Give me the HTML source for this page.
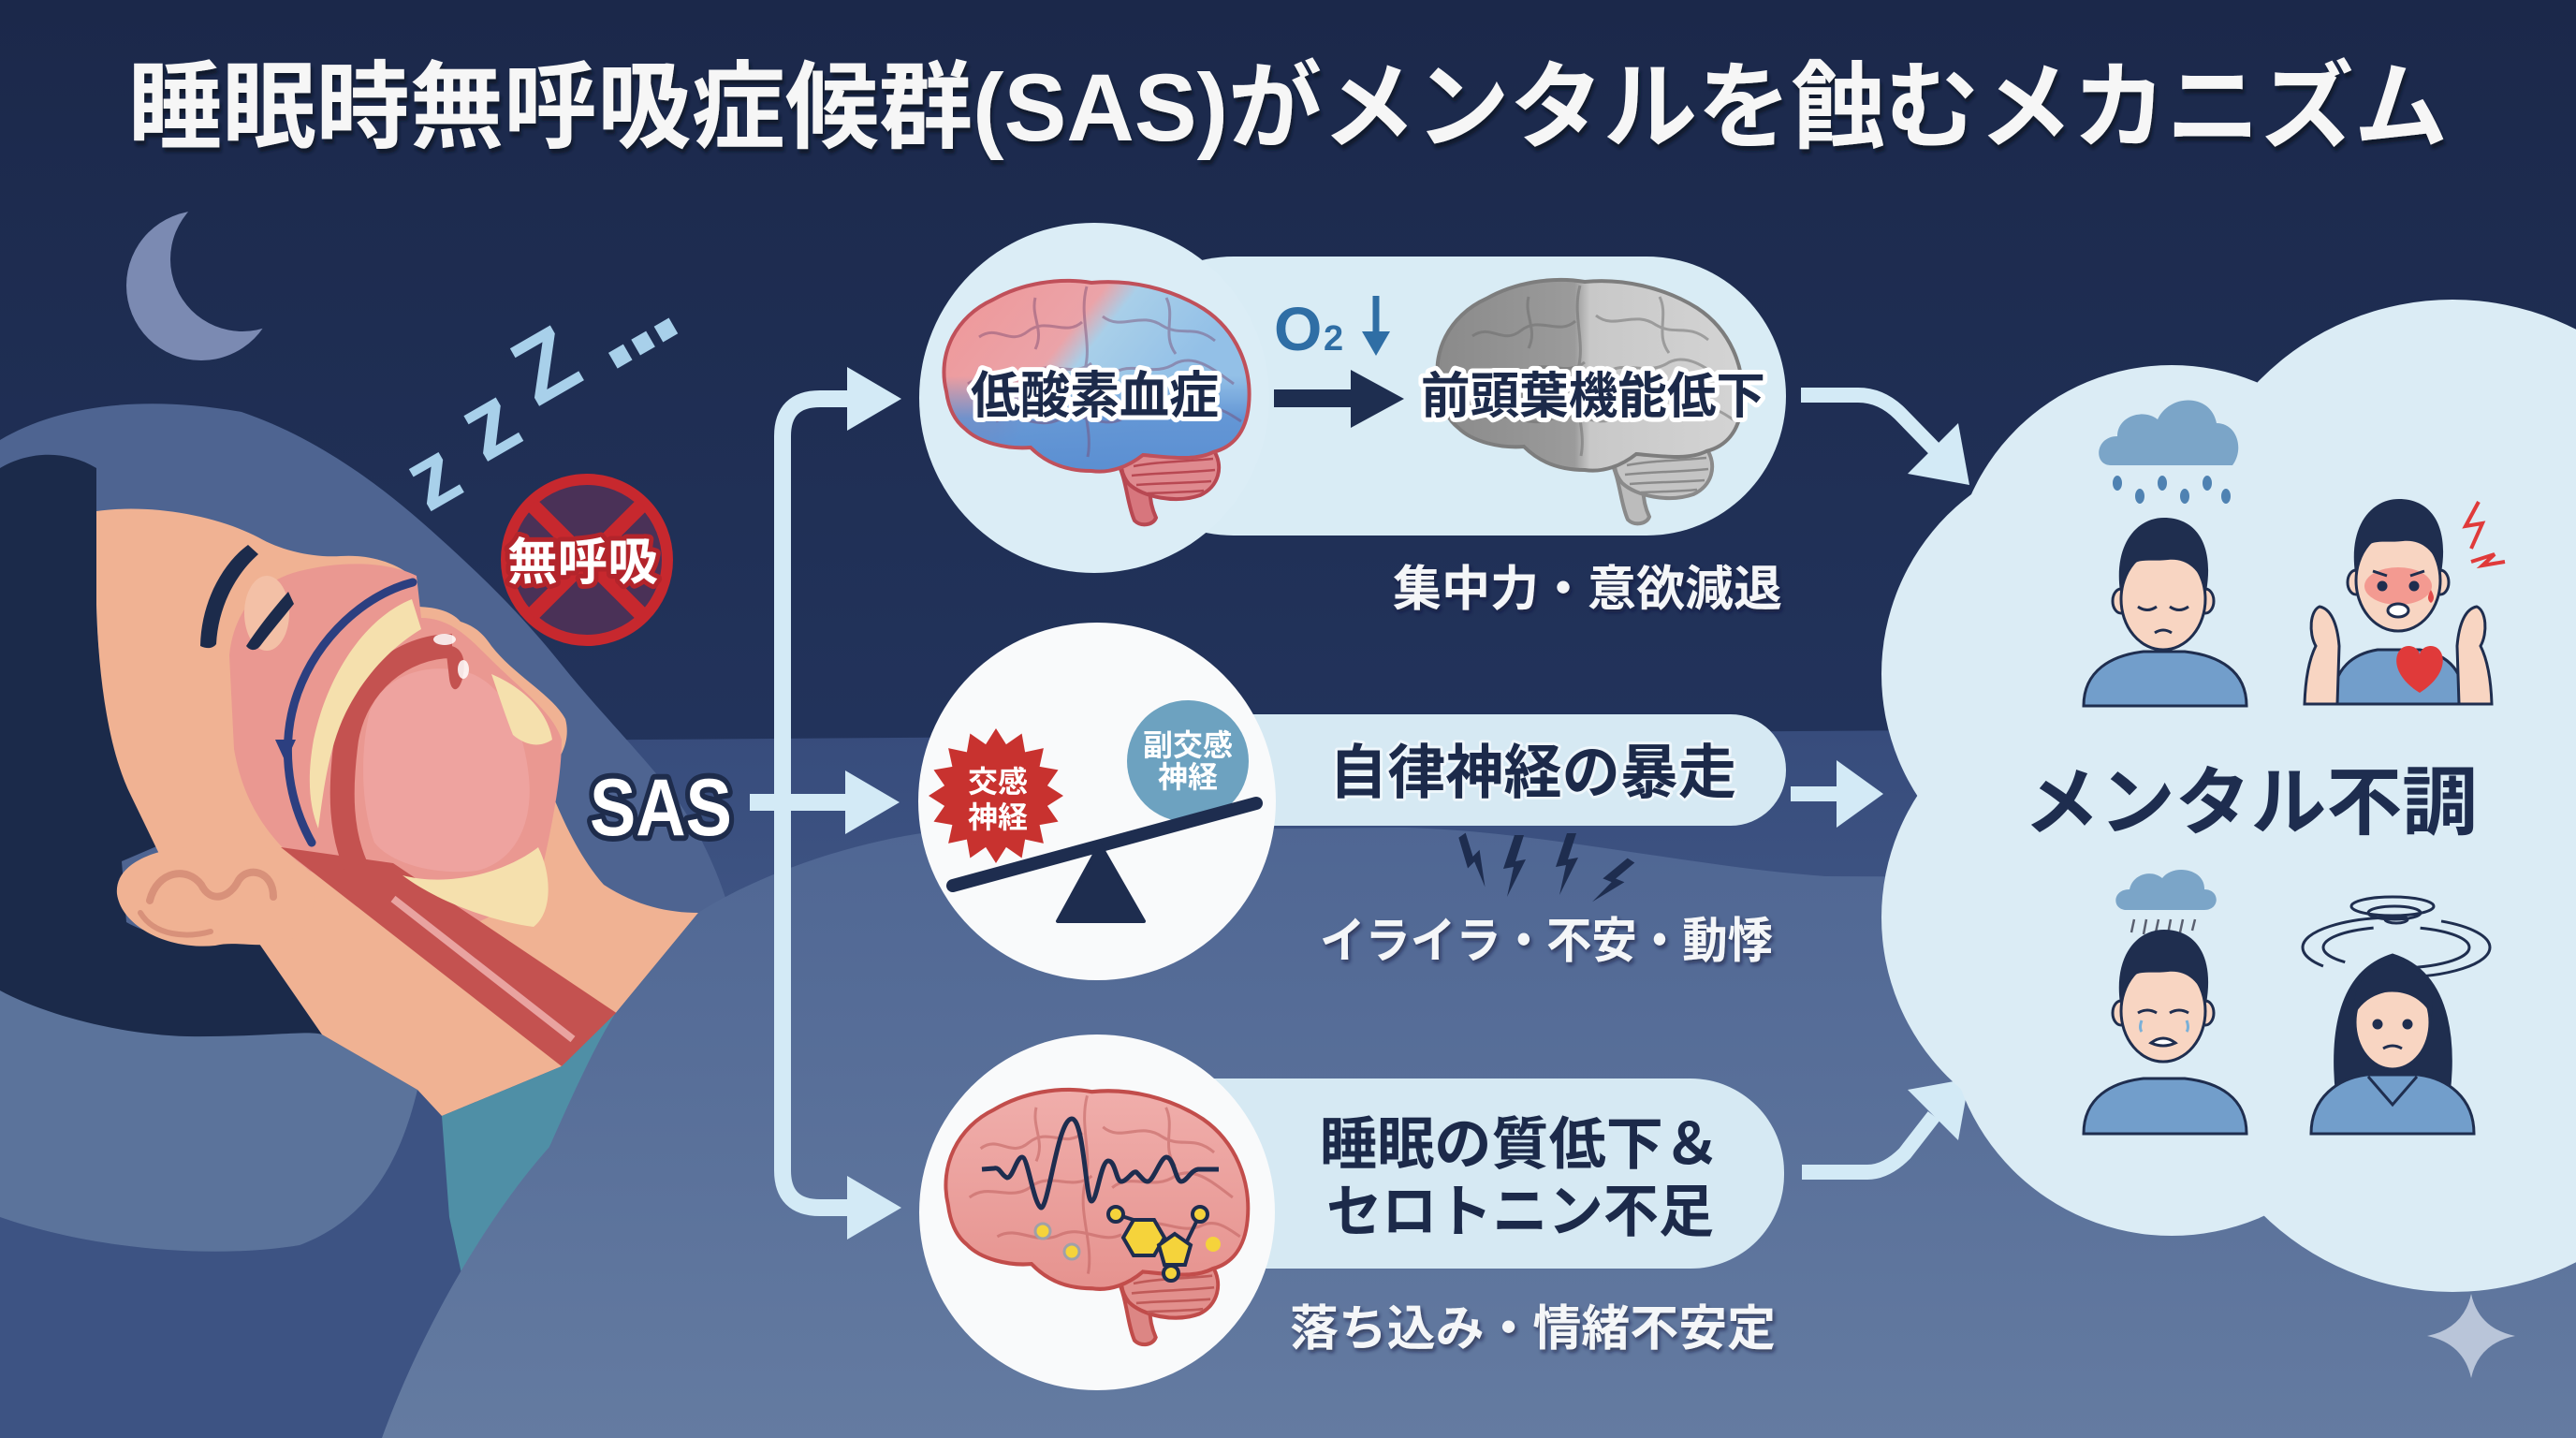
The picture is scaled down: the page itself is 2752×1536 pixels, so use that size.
<!DOCTYPE html>
<html><head><meta charset="utf-8">
<style>
html,body{margin:0;padding:0;width:2752px;height:1536px;overflow:hidden;background:#1f2d50;}
svg{display:block}
text{font-family:"Liberation Sans","Noto Sans CJK JP",sans-serif;font-weight:700;}
</style></head><body>
<svg width="2752" height="1536" viewBox="0 0 2752 1536" xmlns="http://www.w3.org/2000/svg">
<defs>
 <linearGradient id="bg" x1="0" y1="0" x2="0" y2="1536" gradientUnits="userSpaceOnUse">
  <stop offset="0" stop-color="#1b284a"/><stop offset="0.5" stop-color="#22335b"/><stop offset="1" stop-color="#2b3e68"/>
 </linearGradient>
 <linearGradient id="l1" x1="0" y1="780" x2="0" y2="1536" gradientUnits="userSpaceOnUse">
  <stop offset="0" stop-color="#374c7c"/><stop offset="1" stop-color="#536a96"/>
 </linearGradient>
 <linearGradient id="l2" x1="0" y1="880" x2="0" y2="1536" gradientUnits="userSpaceOnUse">
  <stop offset="0" stop-color="#4f6693"/><stop offset="1" stop-color="#647ba1"/>
 </linearGradient>
 <linearGradient id="gb1" x1="0.1" y1="0.1" x2="0.8" y2="0.45">
  <stop offset="0" stop-color="#ee9a9c"/><stop offset="0.45" stop-color="#eba3a8"/><stop offset="0.58" stop-color="#a8cfe9"/><stop offset="1" stop-color="#93c0e7"/>
 </linearGradient>
 <linearGradient id="gb1b" x1="0" y1="0" x2="0" y2="1">
  <stop offset="0" stop-color="#5b8fd2" stop-opacity="0"/><stop offset="0.5" stop-color="#5b8fd2" stop-opacity="0"/><stop offset="0.72" stop-color="#5b8fd2" stop-opacity="0.85"/><stop offset="1" stop-color="#5b8fd2" stop-opacity="1"/>
 </linearGradient>
 <linearGradient id="gb2" x1="0" y1="0" x2="1" y2="0">
  <stop offset="0" stop-color="#8a8a8a"/><stop offset="0.45" stop-color="#9b9b9b"/><stop offset="0.5" stop-color="#c8c8c8"/><stop offset="1" stop-color="#d4d4d4"/>
 </linearGradient>
 <linearGradient id="gb3" x1="0" y1="0" x2="0" y2="1">
  <stop offset="0" stop-color="#f0aeab"/><stop offset="1" stop-color="#e6938f"/>
 </linearGradient>
 <filter id="ds" x="-5%" y="-30%" width="110%" height="160%"><feDropShadow dx="2" dy="5" stdDeviation="1.5" flood-color="#081228" flood-opacity="0.9"/></filter>
 <filter id="ds2" x="-5%" y="-30%" width="110%" height="160%"><feDropShadow dx="2" dy="3" stdDeviation="2" flood-color="#0b1633" flood-opacity="0.6"/></filter>
 <mask id="moonmask"><rect x="100" y="180" width="260" height="260" fill="white"/><circle cx="259" cy="277" r="77" fill="black"/></mask>
 <path id="cer" d="M5,120 C-5,80 15,40 55,22 C85,5 125,-2 160,4 C200,0 245,10 280,32 C315,55 332,95 328,135 C325,165 310,180 290,185 C270,195 240,190 215,188 C200,200 180,208 160,205 C130,205 110,195 95,180 C70,182 40,175 25,160 C12,150 7,135 5,120 Z"/>
 <path id="cbl" d="M195,188 C215,176 262,172 290,182 C302,200 296,222 276,231 C250,240 215,233 200,219 C191,208 190,196 195,188 Z"/>
 <path id="stem" d="M188,196 C198,216 198,240 206,258 C213,265 226,263 229,255 C222,240 220,222 226,200 Z"/>
 <path id="gyri" fill="none" d="M40,62 C60,48 72,72 92,56 C112,40 132,62 150,46 M28,112 C50,96 72,118 96,100 C116,86 140,106 160,90 M172,40 C192,56 212,34 236,50 C256,62 270,48 292,66 M182,102 C202,86 226,106 250,90 C270,80 290,96 312,112 M58,152 C80,140 100,162 126,150 C150,140 170,160 192,150 M212,142 C232,130 256,152 280,140 C296,134 310,146 320,152 M155,8 C146,40 162,70 152,100 C146,130 162,160 156,190 M100,20 C95,40 110,55 100,75 M240,20 C250,40 235,60 250,80"/>
 <path id="cstr" fill="none" d="M205,200 C230,195 260,195 290,192 M203,210 C230,207 262,207 292,204 M208,220 C232,218 262,218 288,216 M220,229 C240,228 262,228 280,226"/>
 <path id="hairM" d="M2265,632 C2258,582 2282,553 2312,553 C2345,553 2366,580 2357,632 C2350,606 2334,596 2316,598 C2298,600 2284,596 2278,604 C2270,612 2267,622 2265,632 Z"/>
 <path id="bolt" d="M14,0 L2,36 L13,34 L6,66 L26,26 L15,28 L24,0 Z"/>
</defs>

<!-- background -->
<rect width="2752" height="1536" fill="url(#bg)"/>
<path d="M0,795 L2752,775 L2752,1536 L0,1536 Z" fill="url(#l1)"/>

<!-- lower-left region -->
<rect x="0" y="1000" width="520" height="536" fill="#3d5383"/>

<!-- pillow -->
<path d="M0,470 C57,436 144,420 258,440 C340,468 410,520 470,575 C520,620 560,660 600,710 C640,760 690,810 720,850 C750,890 770,940 780,975 L0,1000 Z" fill="#4e6491"/>

<!-- hair -->
<path d="M0,500 C30,482 70,480 103,500 L103,646 C105,730 118,790 145,842 C165,870 185,882 200,890 L130,920 L135,985 C170,1005 230,1010 268,995 L344,1105 C280,1110 200,1110 150,1105 C90,1100 40,1085 0,1060 Z" fill="#1b2a4a"/>
<!-- pillow lobes -->
<path d="M0,1058 C50,1085 130,1105 200,1107 C280,1108 330,1100 344,1105 L446,1164 C430,1230 400,1300 320,1330 C230,1345 100,1335 0,1300 Z" fill="#5b739b"/>

<!-- face / neck -->
<path d="M103,546 C160,538 230,550 276,574 C300,588 335,596 364,594 C392,592 425,600 445,620 C447,630 446,640 444,648 C462,648 482,652 492,664 C505,668 515,675 525,690 C550,722 590,742 604,768 C610,790 600,812 582,828 C598,870 618,915 645,945 C680,968 715,975 746,975 L657,1083 L600,1139 L472,1192 L446,1164 L344,1105 L268,995 L215,1005 L140,850 C115,800 105,720 103,646 Z" fill="#f0b293"/>
<!-- airway -->
<path d="M245,700 C250,650 280,620 320,610 C360,600 410,598 445,615 L450,660 C480,660 500,680 520,700 C560,740 590,760 600,790 C600,830 590,880 580,925 C560,960 520,990 470,995 L330,930 C290,900 260,860 250,800 Z" fill="#ea9891"/>
<path d="M300,905 L420,922 L660,1083 L600,1139 Z" fill="#c45250"/>
<path d="M420,960 L612,1110" stroke="#e9a3a0" stroke-width="8" fill="none"/>
<path d="M483,690 C430,690 380,730 370,790 C362,850 365,890 380,925" stroke="#c45250" stroke-width="26" fill="none"/>
<path d="M440,640 C390,660 350,720 335,790 C328,830 330,860 340,885 C345,850 350,800 370,760 C390,720 420,690 450,672 Z" fill="#f5e0ad"/>
<path d="M395,760 C410,720 460,705 505,720 C540,735 560,780 565,830 C570,880 550,920 510,930 C470,935 420,925 400,900 C385,860 385,800 395,760 Z" fill="#eea39f"/>
<path d="M525,720 C560,735 585,760 590,790 C575,800 560,795 548,785 C540,765 532,740 525,720 Z" fill="#f5e0ad"/>
<path d="M430,935 C480,948 540,932 575,905 C590,935 590,975 570,990 C530,985 470,965 430,935 Z" fill="#f5e0ad"/>
<path d="M476,690 C490,688 500,700 494,725 C490,740 482,740 480,725 Z" fill="#c45250"/>
<ellipse cx="475" cy="683" rx="12" ry="6" fill="#ffffff" opacity="0.85"/>
<ellipse cx="495" cy="715" rx="6" ry="10" fill="#ffffff" opacity="0.85"/>
<path d="M441,622 C390,635 340,680 318,740 C300,790 305,850 333,900" stroke="#2c3f80" stroke-width="9" fill="none" stroke-linecap="round"/>
<polygon points="294,790 316,790 305,814" fill="#2c3f80"/>
<!-- eyes -->
<ellipse cx="285" cy="655" rx="24" ry="40" fill="#f3c0a6"/>
<path d="M265,582 C240,600 215,640 214,690 C222,694 228,692 231,688 C233,650 250,615 276,592 Z" fill="#1c2b4b"/>
<path d="M308,632 C292,650 276,670 263,690 C268,696 274,695 278,690 C291,673 302,660 314,645 Z" fill="#1c2b4b"/>
<!-- ear -->
<path d="M200,905 C240,895 300,900 330,930 C345,960 330,1000 300,1008 C270,1012 250,1005 230,1010 C180,1015 130,990 125,955 C122,925 160,908 200,905 Z" fill="#f0b293"/>
<path d="M160,962 C168,930 200,925 215,945 C225,965 245,960 255,940 C265,925 292,930 292,958" stroke="#d8917a" stroke-width="8" fill="none" stroke-linecap="round"/>
<path d="M150,975 C165,1000 200,1002 225,995" stroke="#d8917a" stroke-width="6" fill="none" stroke-linecap="round"/>
<!-- shirt -->
<path d="M472,1192 L600,1139 L657,1083 L587,1225 L497,1379 L480,1300 Z" fill="#4f8fa6"/>
<!-- blanket / lower layer -->
<path d="M746,975 C800,940 900,900 1000,888 L1500,884 C1650,888 1800,925 1950,936 L2752,940 L2752,1536 L408,1536 C450,1420 520,1300 587,1225 C620,1150 640,1110 657,1083 Z" fill="url(#l2)"/>

<!-- moon -->
<circle cx="215" cy="305" r="80" fill="#7b8ab2" mask="url(#moonmask)"/>

<!-- zzz -->
<g fill="#a8d0ea">
 <text transform="translate(478,536) rotate(-30)" text-anchor="middle" font-size="96">z</text>
 <text transform="translate(540,482) rotate(-30)" text-anchor="middle" font-size="104">z</text>
 <text transform="translate(600,420) rotate(-30)" text-anchor="middle" font-size="100">Z</text>
 <text transform="translate(652,398) rotate(-30)" font-size="130" letter-spacing="-8">...</text>
</g>

<!-- badge -->
<circle cx="627" cy="598" r="86" fill="#4a3157" stroke="#c7282e" stroke-width="12"/>
<path d="M568,539 L686,657 M686,539 L568,657" stroke="#c7282e" stroke-width="16"/>
<text x="542" y="619" font-size="54" textLength="161" lengthAdjust="spacingAndGlyphs" fill="#ffffff" stroke="#b3242b" stroke-width="10" paint-order="stroke" stroke-linejoin="round">無呼吸</text>

<!-- SAS -->
<text x="630" y="892" font-size="86" textLength="152" lengthAdjust="spacingAndGlyphs" fill="#ffffff" stroke="#1e2c4c" stroke-width="12" paint-order="stroke" stroke-linejoin="round">SAS</text>

<!-- connectors left -->
<g stroke="#d3eaf6" stroke-width="18" fill="none">
 <path d="M801,857 L915,857"/>
 <path d="M915,426 L876,426 Q836,426 836,466 L836,1250 Q836,1290 876,1290 L915,1290"/>
</g>
<g fill="#d3eaf6">
 <polygon points="963,426 905,392 905,460"/>
 <polygon points="961,857 903,823 903,891"/>
 <polygon points="963,1290 905,1256 905,1324"/>
</g>

<!-- TOP PANEL -->
<rect x="1169" y="274" width="739" height="298" rx="149" fill="#d9ecf5"/>
<circle cx="1169" cy="425" r="187" fill="#dbedf6"/>
<g transform="translate(1006,298)">
 <use href="#stem" fill="#d7767d" stroke="#b84852" stroke-width="4"/>
 <use href="#cbl" fill="#df8a8f" stroke="#b84852" stroke-width="4"/>
 <use href="#cstr" stroke="#b84852" stroke-width="2.5"/>
 <use href="#cer" fill="url(#gb1)"/>
 <use href="#cer" fill="url(#gb1b)" stroke="#c0505a" stroke-width="4"/>
 <use href="#gyri" stroke="#7a4a70" stroke-opacity="0.45" stroke-width="3"/>
</g>
<g transform="translate(1533,297)">
 <use href="#stem" fill="#bcbcbc" stroke="#8a8a8a" stroke-width="4"/>
 <use href="#cbl" fill="#c4c4c4" stroke="#8a8a8a" stroke-width="4"/>
 <use href="#cstr" stroke="#8a8a8a" stroke-width="2.5"/>
 <use href="#cer" fill="url(#gb2)" stroke="#7d7d7d" stroke-width="4"/>
 <use href="#gyri" stroke="#6a6a6a" stroke-opacity="0.5" stroke-width="3"/>
</g>
<text x="1037" y="441" font-size="54" textLength="265" lengthAdjust="spacingAndGlyphs" fill="#1c2a4a" stroke="#ffffff" stroke-width="10" paint-order="stroke" stroke-linejoin="round">低酸素血症</text>
<text x="1518" y="441" font-size="53" textLength="368" lengthAdjust="spacingAndGlyphs" fill="#1c2a4a" stroke="#ffffff" stroke-width="10" paint-order="stroke" stroke-linejoin="round">前頭葉機能低下</text>
<text x="1361" y="374" font-size="66" fill="#2f6ea5">O</text>
<text x="1414" y="374" font-size="38" fill="#2f6ea5">2</text>
<path d="M1470,316 L1470,362" stroke="#2f6ea5" stroke-width="7"/>
<polygon points="1455,354 1485,354 1470,380" fill="#2f6ea5"/>
<rect x="1361" y="416" width="86" height="19" fill="#1e2e50"/>
<polygon points="1443,395 1500,426 1443,457" fill="#1e2e50"/>
<text x="1488" y="647" font-size="52" textLength="416" lengthAdjust="spacingAndGlyphs" fill="#f4f6f8" filter="url(#ds2)">集中力・意欲減退</text>

<!-- MIDDLE PANEL -->
<rect x="1172" y="763" width="736" height="119" rx="59" fill="#d6e9f3"/>
<circle cx="1172" cy="856" r="191" fill="#f9fafb"/>
<circle cx="1269" cy="813" r="65" fill="#6da2c0"/>
<text x="1269" y="807" font-size="32" text-anchor="middle" fill="#ffffff">副交感</text>
<text x="1269" y="841" font-size="32" text-anchor="middle" fill="#ffffff">神経</text>
<polygon fill="#c8322f" points="1064,778 1074.9,795.1 1091.6,783.5 1095.1,803.4 1114.9,799.1 1110.6,818.9 1130.5,822.4 1118.9,839.1 1136,850 1118.9,860.9 1130.5,877.6 1110.6,881.1 1114.9,900.9 1095.1,896.6 1091.6,916.5 1074.9,904.9 1064,922 1053.1,904.9 1036.4,916.5 1032.9,896.6 1013.1,900.9 1017.4,881.1 997.5,877.6 1009.1,860.9 992,850 1009.1,839.1 997.5,822.4 1017.4,818.9 1013.1,799.1 1032.9,803.4 1036.4,783.5 1053.1,795.1"/>
<text x="1066" y="846" font-size="32" text-anchor="middle" fill="#ffffff">交感</text>
<text x="1066" y="884" font-size="32" text-anchor="middle" fill="#ffffff">神経</text>
<line x1="1018" y1="946" x2="1342" y2="858" stroke="#1e2d4f" stroke-width="14" stroke-linecap="round"/>
<polygon points="1175,902 1130,984 1222,984" fill="#1e2d4f" stroke="#1e2d4f" stroke-width="4" stroke-linejoin="round"/>
<text x="1420" y="847" font-size="63" textLength="435" lengthAdjust="spacingAndGlyphs" fill="#1c2a4a" stroke="#eef6fb" stroke-width="6" paint-order="stroke" stroke-linejoin="round">自律神経の暴走</text>
<g fill="#1e2d4f">
 <use href="#bolt" transform="translate(1548,902) rotate(-35) scale(0.9)"/>
 <use href="#bolt" transform="translate(1604,892)"/>
 <use href="#bolt" transform="translate(1660,890)"/>
 <use href="#bolt" transform="translate(1728,910) rotate(32) scale(0.9)"/>
</g>
<text x="1410" y="1023" font-size="52" textLength="484" lengthAdjust="spacingAndGlyphs" fill="#f4f6f8" filter="url(#ds2)">イライラ・不安・動悸</text>

<!-- BOTTOM PANEL -->
<rect x="1172" y="1152" width="734" height="203" rx="100" fill="#d6e9f3"/>
<circle cx="1172" cy="1295" r="190" fill="#f9fafb"/>
<g transform="translate(1008,1162) scale(0.99,1.045)">
 <use href="#stem" fill="#dc8684" stroke="#c04c4a" stroke-width="4"/>
 <use href="#cbl" fill="#e2908d" stroke="#c04c4a" stroke-width="4"/>
 <use href="#cstr" stroke="#c05a58" stroke-width="2.5"/>
 <use href="#cer" fill="url(#gb3)" stroke="#c24d4b" stroke-width="4"/>
 <use href="#gyri" stroke="#c0605e" stroke-opacity="0.55" stroke-width="3"/>
</g>
<path d="M1049,1249 L1062,1248 C1068,1246 1070,1256 1076,1258 C1082,1258 1086,1236 1092,1236 C1098,1236 1104,1285 1112,1290 C1120,1292 1130,1195 1145,1195 C1158,1195 1160,1283 1166,1283 C1172,1283 1176,1240 1184,1240 C1192,1240 1192,1262 1198,1262 C1204,1262 1210,1250 1214,1252 C1220,1258 1222,1262 1226,1262 C1232,1262 1240,1236 1246,1236 C1254,1236 1256,1262 1262,1262 C1268,1262 1272,1250 1280,1249 L1302,1249" stroke="#1e2d4f" stroke-width="5" fill="none" stroke-linejoin="round"/>
<g stroke="#1e2d4f" stroke-width="4">
 <line x1="1192" y1="1297" x2="1211" y2="1303"/>
 <line x1="1282" y1="1297" x2="1266" y2="1330"/>
 <line x1="1251" y1="1358" x2="1255" y2="1350"/>
 <polygon points="1244,1322 1233,1341 1211,1341 1200,1322 1211,1303 1233,1303" fill="#f5d33b"/>
 <polygon points="1255,1318 1272,1330 1266,1351 1244,1351 1238,1330" fill="#f5d33b"/>
 <circle cx="1192" cy="1297" r="8" fill="#f5d33b"/>
 <circle cx="1282" cy="1297" r="8" fill="#f5d33b"/>
 <circle cx="1251" cy="1360" r="8" fill="#f5d33b"/>
</g>
<g fill="#f5d33b" stroke="#a0a0a8" stroke-width="3">
 <circle cx="1114" cy="1315" r="8"/><circle cx="1145" cy="1337" r="8"/><circle cx="1296" cy="1329" r="8" stroke="none"/>
</g>
<text x="1410" y="1243" font-size="61" textLength="428" lengthAdjust="spacingAndGlyphs" fill="#1c2a4a">睡眠の質低下＆</text>
<text x="1417" y="1315" font-size="61" textLength="414" lengthAdjust="spacingAndGlyphs" fill="#1c2a4a">セロトニン不足</text>
<text x="1378" y="1437" font-size="52" textLength="519" lengthAdjust="spacingAndGlyphs" fill="#f4f6f8" filter="url(#ds2)">落ち込み・情緒不安定</text>

<!-- right arrows -->
<g stroke="#d3eaf6" stroke-width="16" fill="none">
 <path d="M1924,422 L1985,422 Q2010,422 2030,442 L2068,481"/>
 <path d="M1913,848 L1972,848"/>
 <path d="M1925,1252 L1995,1252 Q2015,1252 2035,1232 L2066,1192"/>
</g>
<g fill="#d3eaf6">
 <polygon points="2104,518 2092,452 2038,506"/>
 <polygon points="2012,848 1962,812 1962,884"/>
 <polygon points="2104,1152 2038,1164 2092,1218"/>
</g>

<!-- cloud -->
<g fill="#dbecf5">
 <circle cx="2620" cy="610" r="290"/>
 <circle cx="2320" cy="625" r="235"/>
 <circle cx="2250" cy="720" r="240"/>
 <circle cx="2250" cy="980" r="240"/>
 <circle cx="2320" cy="1080" r="240"/>
 <circle cx="2620" cy="1090" r="290"/>
 <rect x="2300" y="600" width="452" height="500"/>
</g>

<!-- people TL -->
<g stroke="#1f2e4f" stroke-width="3">
 <path d="M2255,497 C2236,497 2238,466 2262,466 C2262,444 2290,436 2305,448 C2318,420 2362,420 2368,452 C2390,452 2398,480 2385,497 Z" fill="#7ba5c8" stroke="none"/>
 <g fill="#4f82b2" stroke="none">
  <ellipse cx="2262" cy="516" rx="5" ry="8"/><ellipse cx="2286" cy="530" rx="5" ry="8"/><ellipse cx="2310" cy="516" rx="5" ry="8"/><ellipse cx="2334" cy="530" rx="5" ry="8"/><ellipse cx="2358" cy="516" rx="5" ry="8"/><ellipse cx="2378" cy="530" rx="5" ry="8"/>
 </g>
 <path d="M2226,754 C2226,716 2256,700 2290,696 L2334,696 C2370,700 2400,716 2400,754 Z" fill="#729ecb"/>
 <ellipse cx="2266" cy="642" rx="9" ry="13" fill="#f8d5c2"/>
 <ellipse cx="2356" cy="642" rx="9" ry="13" fill="#f8d5c2"/>
 <ellipse cx="2311" cy="640" rx="45" ry="54" fill="#f8d5c2"/>
 <use href="#hairM" fill="#1f2e4f" stroke="none"/>
 <path d="M2284,648 q10,7 20,0 M2318,648 q10,7 20,0 M2302,676 q9,-6 18,0" fill="none"/>
</g>
<!-- TR -->
<g stroke="#1f2e4f" stroke-width="3">
 <path d="M2492,752 C2492,712 2516,698 2540,694 L2585,694 C2610,698 2633,712 2633,752 Z" fill="#729ecb"/>
 <path d="M2462,752 C2463,722 2468,702 2474,690 C2466,676 2468,652 2478,648 C2490,650 2497,666 2499,690 L2497,752 Z" fill="#f8d5c2"/>
 <path d="M2662,752 C2661,722 2656,702 2650,690 C2658,676 2656,652 2646,648 C2634,650 2627,666 2625,690 L2627,752 Z" fill="#f8d5c2"/>
 <ellipse cx="2517" cy="622" rx="9" ry="13" fill="#f8d5c2"/>
 <ellipse cx="2607" cy="622" rx="9" ry="13" fill="#f8d5c2"/>
 <ellipse cx="2562" cy="620" rx="45" ry="54" fill="#f8d5c2"/>
 <ellipse cx="2562" cy="626" rx="36" ry="20" fill="#ee6a6a" opacity="0.55" stroke="none"/>
 <use href="#hairM" fill="#1f2e4f" stroke="none" transform="translate(251,-20)"/>
 <circle cx="2545" cy="626" r="4" fill="#1f2e4f"/><circle cx="2579" cy="626" r="4" fill="#1f2e4f"/>
 <path d="M2535,610 l15,5 M2590,610 l-15,5" fill="none"/>
 <ellipse cx="2562" cy="652" rx="11" ry="7" fill="#ffffff"/>
 <path d="M2597,630 q-6,10 0,14 q6,-4 0,-14 Z" fill="#e04a4a" stroke="none"/>
 <path d="M2585,740 C2550,718 2558,690 2573,690 C2580,690 2585,695 2585,700 C2585,695 2590,690 2597,690 C2612,690 2620,718 2585,740 Z" fill="#e03a3a" stroke="none"/>
 <path d="M2648,536 L2634,562 L2652,559 L2640,586 M2640,600 L2665,592 L2652,604 L2676,600" fill="none" stroke="#e03a3a" stroke-width="4"/>
</g>
<!-- BL -->
<g stroke="#1f2e4f" stroke-width="3">
 <path d="M2272,972 C2256,972 2256,950 2275,950 C2278,934 2298,928 2310,938 C2322,922 2356,928 2355,950 C2372,950 2372,972 2355,972 Z" fill="#7ba5c8" stroke="none"/>
 <path d="M2280,982 l-3,14 M2293,982 l-3,16 M2306,982 l-3,14 M2319,982 l-3,16 M2332,982 l-3,14 M2345,982 l-3,12" stroke="#5a6070" stroke-width="2.5"/>
 <path d="M2226,1211 C2226,1172 2256,1156 2290,1152 L2334,1152 C2370,1156 2400,1172 2400,1211 Z" fill="#729ecb"/>
 <ellipse cx="2266" cy="1082" rx="9" ry="13" fill="#f8d5c2"/>
 <ellipse cx="2356" cy="1082" rx="9" ry="13" fill="#f8d5c2"/>
 <ellipse cx="2311" cy="1080" rx="45" ry="54" fill="#f8d5c2"/>
 <use href="#hairM" fill="#1f2e4f" stroke="none" transform="translate(0,440)"/>
 <path d="M2284,1082 q10,-6 20,0 M2318,1082 q10,-6 20,0" fill="none"/>
 <path d="M2298,1114 q13,-10 26,0 q-13,6 -26,0 Z" fill="#ffffff"/>
 <path d="M2288,1090 q-3,8 0,12 M2336,1090 q3,8 0,12" stroke="#7ab0d8" fill="none"/>
</g>
<!-- BR -->
<g stroke="#1f2e4f" stroke-width="3" fill="none">
 <ellipse cx="2560" cy="1012" rx="100" ry="32" stroke-dasharray="150 40"/>
 <ellipse cx="2560" cy="1012" rx="78" ry="22" stroke-dasharray="90 50"/>
 <ellipse cx="2556" cy="968" rx="44" ry="10"/>
 <ellipse cx="2558" cy="975" rx="28" ry="7"/>
 <ellipse cx="2560" cy="982" rx="12" ry="4"/>
 <path d="M2500,1195 C2488,1120 2492,1040 2556,1020 C2620,1040 2626,1120 2612,1195 Z" fill="#1f2e4f"/>
 <path d="M2469,1211 C2469,1172 2498,1152 2528,1148 L2584,1148 C2614,1152 2643,1172 2643,1211 Z" fill="#729ecb"/>
 <path d="M2530,1150 L2556,1180 L2582,1150"/>
 <ellipse cx="2556" cy="1092" rx="40" ry="50" fill="#f8d5c2"/>
 <path d="M2515,1085 C2512,1045 2535,1030 2558,1030 C2586,1030 2602,1050 2598,1085 C2585,1062 2565,1058 2548,1060 C2532,1064 2522,1072 2515,1085 Z" fill="#1f2e4f" stroke="none"/>
 <circle cx="2540" cy="1094" r="4" fill="#1f2e4f"/><circle cx="2572" cy="1094" r="4" fill="#1f2e4f"/>
 <path d="M2546,1120 q10,-6 20,0"/>
</g>

<text x="2162" y="885" font-size="80" textLength="485" lengthAdjust="spacingAndGlyphs" fill="#1e2d4f">メンタル不調</text>

<!-- sparkle -->
<path d="M2640,1382 Q2648,1419 2687,1427 Q2648,1435 2640,1472 Q2632,1435 2593,1427 Q2632,1419 2640,1382 Z" fill="#c9d2e3" opacity="0.85"/>

<!-- title -->
<text x="137" y="150" font-size="102" textLength="2478" lengthAdjust="spacingAndGlyphs" fill="#f6f6f6" filter="url(#ds)">睡眠時無呼吸症候群(SAS)がメンタルを蝕むメカニズム</text>
</svg>
</body></html>
